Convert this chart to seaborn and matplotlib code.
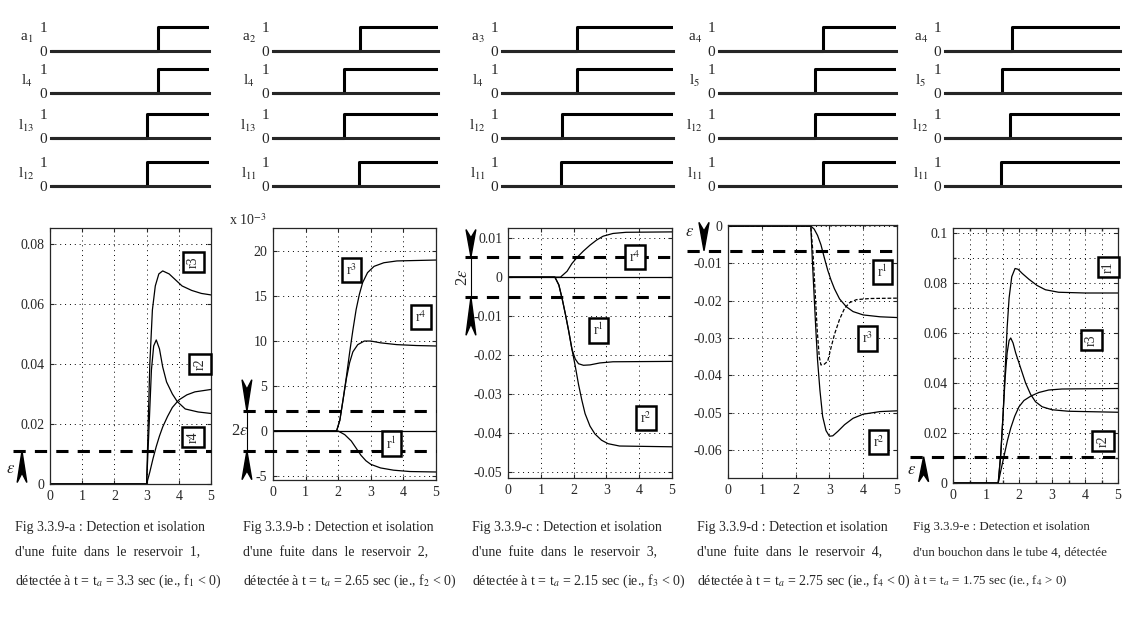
import matplotlib
matplotlib.use("Agg")
import matplotlib.pyplot as plt
import matplotlib.transforms as mtransforms
import seaborn as sns

# ---- step signals (switch-on time in s, rows top -> bottom) ----
labels_a = ["a$_1$", "l$_4$", "l$_{13}$", "l$_{12}$"]
labels_b = ["a$_2$", "l$_4$", "l$_{13}$", "l$_{11}$"]
labels_c = ["a$_3$", "l$_4$", "l$_{12}$", "l$_{11}$"]
labels_d = ["a$_4$", "l$_5$", "l$_{12}$", "l$_{11}$"]
labels_e = ["a$_4$", "l$_5$", "l$_{12}$", "l$_{11}$"]
steps_a = [3.4, 3.4, 3.05, 3.05]
steps_b = [2.65, 2.15, 2.15, 2.6]
steps_c = [2.2, 2.2, 1.75, 1.72]
steps_d = [2.95, 2.7, 2.7, 2.95]
steps_e = [1.9, 1.62, 1.87, 1.6]

# ---- residuals, fig a (reservoir 1) ----
a_t_r3 = [0, 3.0, 3.05, 3.1, 3.18, 3.27, 3.38, 3.5, 3.7, 3.9, 4.1, 4.4, 4.7, 5.0]
a_r3 = [0, 0, 0.02, 0.04, 0.058, 0.066, 0.070, 0.071, 0.070, 0.068, 0.066, 0.0645, 0.0635, 0.063]
a_t_r2 = [0, 3.0, 3.08, 3.15, 3.22, 3.3, 3.4, 3.5, 3.62, 3.8, 3.95, 4.2, 4.6, 5.0]
a_r2 = [0, 0, 0.02, 0.038, 0.046, 0.048, 0.045, 0.039, 0.034, 0.030, 0.0275, 0.025, 0.024, 0.0235]
a_t_r4 = [0, 3.0, 3.1, 3.2, 3.3, 3.4, 3.5, 3.65, 3.8, 4.0, 4.25, 4.5, 5.0]
a_r4 = [0, 0, 0.004, 0.0085, 0.0125, 0.016, 0.019, 0.0225, 0.0255, 0.028, 0.0297, 0.0307, 0.0315]
a_eps = 0.011

# ---- fig b (reservoir 2), units of 1e-3 ----
b_t_r3 = [0, 1.95, 2.05, 2.15, 2.25, 2.35, 2.45, 2.55, 2.65, 2.75, 2.9, 3.1, 3.4, 3.8, 5.0]
b_r3 = [0, 0, 1.2, 3.5, 6.0, 8.7, 11.2, 13.5, 15.2, 16.5, 17.6, 18.3, 18.7, 18.9, 19.0]
b_t_r4 = [0, 1.95, 2.05, 2.15, 2.25, 2.35, 2.45, 2.6, 2.8, 3.0, 3.3, 3.8, 4.4, 5.0]
b_r4 = [0, 0, 1.2, 3.5, 5.8, 7.6, 8.8, 9.6, 10.0, 10.0, 9.8, 9.6, 9.5, 9.45]
b_t_r1 = [0, 2.0, 2.2, 2.4, 2.55, 2.7, 2.85, 3.0, 3.3, 3.7, 4.2, 5.0]
b_r1 = [0, 0, -0.4, -1.1, -1.9, -2.7, -3.3, -3.7, -4.1, -4.35, -4.5, -4.55]
b_t_r2 = [0, 5.0]
b_r2 = [0, 0]
b_eps = 2.2

# ---- fig c (reservoir 3) ----
c_t_r4 = [0, 1.6, 1.8, 1.95, 2.1, 2.3, 2.5, 2.7, 2.9, 3.2, 3.6, 5.0]
c_r4 = [0, 0, 0.0015, 0.0035, 0.005, 0.0067, 0.0082, 0.0095, 0.0105, 0.0112, 0.0115, 0.0116]
c_t_r1 = [0, 1.43, 1.55, 1.65, 1.75, 1.85, 1.95, 2.05, 2.15, 2.3, 2.5, 2.8, 3.2, 5.0]
c_r1 = [0, 0, -0.002, -0.0055, -0.0095, -0.0138, -0.0185, -0.021, -0.0222, -0.0226, -0.0225, -0.022, -0.0217, -0.0216]
c_t_r2 = [0, 1.43, 1.55, 1.65, 1.75, 1.85, 1.95, 2.05, 2.15, 2.25, 2.35, 2.5, 2.65, 2.85, 3.05, 3.4, 5.0]
c_r2 = [0, 0, -0.002, -0.0055, -0.0095, -0.0138, -0.0185, -0.0228, -0.0275, -0.0315, -0.035, -0.0382,
        -0.0402, -0.0418, -0.0427, -0.0433, -0.0435]
c_t_r3 = [0, 5.0]
c_r3 = [0, 0]
c_eps = 0.0052

# ---- fig d (reservoir 4) ----
d_t_r2 = [0, 2.45, 2.5, 2.55, 2.6, 2.65, 2.72, 2.8, 2.9, 3.0, 3.1, 3.25, 3.45, 3.7, 4.0, 4.5, 5.0]
d_r2 = [0, 0, -0.01, -0.019, -0.028, -0.036, -0.044, -0.051, -0.0548, -0.0563, -0.0562, -0.055,
        -0.0532, -0.0515, -0.0504, -0.0497, -0.0495]
d_t_r3 = [0, 2.45, 2.52, 2.58, 2.64, 2.7, 2.75, 2.85, 2.95, 3.05, 3.15, 3.3, 3.45, 3.6, 3.8, 4.2, 5.0]
d_r3 = [0, 0, -0.008, -0.018, -0.028, -0.035, -0.0372, -0.037, -0.0362, -0.0325, -0.029, -0.025,
        -0.022, -0.0205, -0.0197, -0.0194, -0.0193]
d_t_r1 = [0, 2.45, 2.55, 2.65, 2.75, 2.85, 2.95, 3.05, 3.15, 3.3, 3.5, 3.7, 4.0, 4.5, 5.0]
d_r1 = [0, 0, -0.0008, -0.0025, -0.005, -0.0085, -0.0118, -0.0145, -0.0168, -0.0195, -0.0216,
        -0.0229, -0.0238, -0.0243, -0.0245]
d_eps = -0.0066

# ---- fig e (plug in tube 4) ----
e_t_r1 = [0, 1.37, 1.45, 1.52, 1.58, 1.64, 1.7, 1.78, 1.88, 1.97, 2.1, 2.3, 2.55, 2.8, 3.2, 4.0, 5.0]
e_r1 = [0, 0, 0.012, 0.028, 0.045, 0.062, 0.074, 0.0825, 0.0858, 0.0855, 0.0838, 0.0815, 0.079,
        0.0773, 0.0763, 0.076, 0.076]
e_t_r3 = [0, 1.37, 1.45, 1.52, 1.58, 1.64, 1.7, 1.75, 1.82, 1.9, 2.0, 2.1, 2.2, 2.35, 2.5, 2.7, 3.0, 3.5, 5.0]
e_r3 = [0, 0, 0.012, 0.028, 0.042, 0.052, 0.057, 0.058, 0.056, 0.052, 0.048, 0.044, 0.040, 0.0355,
        0.0325, 0.0305, 0.0293, 0.0287, 0.0283]
e_t_r2 = [0, 1.37, 1.45, 1.55, 1.65, 1.75, 1.87, 2.0, 2.15, 2.35, 2.6, 2.9, 3.3, 5.0]
e_r2 = [0, 0, 0.005, 0.011, 0.017, 0.022, 0.0267, 0.0305, 0.033, 0.0347, 0.0362, 0.0372, 0.0376, 0.0378]
e_eps = 0.0105

captions = [
    ["Fig 3.3.9-a : Detection et isolation", "d'une  fuite  dans  le  reservoir  1,",
     "détectée à t = t$_a$ = 3.3 sec (ie., f$_1$ < 0)"],
    ["Fig 3.3.9-b : Detection et isolation", "d'une  fuite  dans  le  reservoir  2,",
     "détectée à t = t$_a$ = 2.65 sec (ie., f$_2$ < 0)"],
    ["Fig 3.3.9-c : Detection et isolation", "d'une  fuite  dans  le  reservoir  3,",
     "détectée à t = t$_a$ = 2.15 sec (ie., f$_3$ < 0)"],
    ["Fig 3.3.9-d : Detection et isolation", "d'une  fuite  dans  le  reservoir  4,",
     "détectée à t = t$_a$ = 2.75 sec (ie., f$_4$ < 0)"],
    ["Fig 3.3.9-e : Detection et isolation", "d'un bouchon dans le tube 4, détectée",
     "à t = t$_a$ = 1.75 sec (ie., f$_4$ > 0)"],
]

sns.set_theme(style="ticks")
plt.rcParams["font.family"] = ["Liberation Serif", "DejaVu Serif"]
plt.rcParams["mathtext.fontset"] = "stix"
plt.rcParams["axes.linewidth"] = 0.9

W, H = 1126, 617
fig = plt.figure(figsize=(W / 100, H / 100), dpi=100)
fig.patch.set_facecolor("white")


def px_axes(left, top, right, bottom):
    return fig.add_axes([left / W, 1 - bottom / H, (right - left) / W, (bottom - top) / H])


row_base = [51, 93, 138, 186]


def draw_steps(left, right, labels, times):
    for base, lab, ts in zip(row_base, labels, times):
        ax = px_axes(left, base - 28, right, base + 3)
        sns.lineplot(x=[0, ts, 5], y=[0, 1, 1], drawstyle="steps-post", color="black",
                     lw=2.2, ax=ax, estimator=None)
        ax.set_xlim(0, 5)
        ax.set_ylim(-3 / 24, 28 / 24)
        for s in ["top", "right", "left"]:
            ax.spines[s].set_visible(False)
        ax.spines["bottom"].set_position(("data", 0))
        ax.spines["bottom"].set_linewidth(2.2)
        ax.set_xticks([])
        ax.set_yticks([0, 1], ["0", "1"])
        ax.tick_params(axis="y", length=0, pad=3, labelsize=11)
        ax.set_xlabel("")
        ax.set_ylabel(lab, rotation=0, fontsize=11, labelpad=9, va="center")
        ax.patch.set_alpha(0)


def draw_residuals(box, ylim, yticks, ylabels, curves, tags, rotate, minor=False):
    ax = px_axes(*box)
    for t, v, ls in curves:
        sns.lineplot(x=t, y=v, color="black", lw=0.9, linestyle=ls, ax=ax, estimator=None)
    ax.set_xlim(0, 5)
    ax.set_ylim(*ylim)
    ax.set_xticks(range(6), [str(i) for i in range(6)])
    ax.set_yticks(yticks, ylabels)
    if minor:
        ax.set_xticks([i + 0.5 for i in range(5)], minor=True)
        ax.set_yticks([k / 100 for k in range(1, 10, 2)], minor=True)
        ax.grid(True, which="minor", ls=(0, (1, 4)), color="black", lw=0.7)
    ax.grid(True, which="major", ls=(0, (1, 4)), color="black", lw=0.7)
    ax.tick_params(direction="in", top=True, right=True, length=3, width=0.8,
                   labelsize=10, pad=4)
    ax.tick_params(which="minor", direction="in", top=True, right=True, length=2)
    ax.set_xlabel("")
    ax.set_ylabel("")
    for tx, ty, s in tags:
        ax.text(tx, ty, s, ha="center", va="center", fontsize=10,
                rotation=90 if rotate else 0, zorder=5,
                bbox=dict(boxstyle="square,pad=0.3", fc="white", ec="black", lw=1.8))
    return ax


def eps_line(ax, x0, y):
    tr = mtransforms.blended_transform_factory(ax.transAxes, ax.transData)
    ax.plot([x0, 1], [y, y], ls=(0, (4, 3)), lw=2.2, color="black", transform=tr,
            clip_on=False, zorder=4)


def arrow_head(ax, x, y_base, y_tip, half):
    tr = mtransforms.blended_transform_factory(ax.transAxes, ax.transData)
    notch = y_base + 0.3 * (y_tip - y_base)
    ax.fill([x - half, x, x + half, x], [y_base, y_tip, y_base, notch], color="black",
            transform=tr, clip_on=False, zorder=4)


def side_text(ax, x, y, s, rot=0):
    tr = mtransforms.blended_transform_factory(ax.transAxes, ax.transData)
    ax.text(x, y, s, transform=tr, ha="center", va="center", fontsize=12, rotation=rot)


# ---- step panels ----
draw_steps(51, 209, labels_a, steps_a)
draw_steps(273, 438, labels_b, steps_b)
draw_steps(502, 673, labels_c, steps_c)
draw_steps(719, 896, labels_d, steps_d)
draw_steps(945, 1120, labels_e, steps_e)

# ---- fig a ----
ax = draw_residuals((50, 228, 211, 484), (0, 0.0853), [0, 0.02, 0.04, 0.06, 0.08],
                    ["0", "0.02", "0.04", "0.06", "0.08"],
                    [(a_t_r3, a_r3, "-"), (a_t_r2, a_r2, "-"), (a_t_r4, a_r4, "-")],
                    [(4.45, 0.074, "r3"), (4.66, 0.040, "r2"), (4.44, 0.0157, "r4")], True)
eps_line(ax, -0.23, a_eps)
arrow_head(ax, -0.174, 0.0005, a_eps, 0.03)
side_text(ax, -0.245, 0.005, r"$\epsilon$")

# ---- fig b ----
ax = draw_residuals((273, 228, 436, 480), (-5.44, 22.56), [-5, 0, 5, 10, 15, 20],
                    ["-5", "0", "5", "10", "15", "20"],
                    [(b_t_r3, b_r3, "-"), (b_t_r4, b_r4, "-"), (b_t_r1, b_r1, "-"),
                     (b_t_r2, b_r2, "-")],
                    [(2.41, 17.9, "r$^3$"), (4.54, 12.7, "r$^4$"), (3.64, -1.4, "r$^1$")], False)
eps_line(ax, -0.184, b_eps)
eps_line(ax, -0.184, -b_eps)
arrow_head(ax, -0.16, 5.7, b_eps, 0.03)
arrow_head(ax, -0.16, -5.4, -b_eps, 0.03)
tr = mtransforms.blended_transform_factory(ax.transAxes, ax.transData)
ax.plot([-0.16, -0.16], [-b_eps, b_eps], color="black", lw=0.8, transform=tr, clip_on=False)
side_text(ax, -0.205, 0, r"2$\epsilon$")
ax.text(-0.27, 1.0, r"x 10$^{-3}$", transform=ax.transAxes, ha="left", va="bottom", fontsize=10)

# ---- fig c ----
ax = draw_residuals((508, 228, 672, 478), (-0.0515, 0.0126),
                    [-0.05, -0.04, -0.03, -0.02, -0.01, 0, 0.01],
                    ["-0.05", "-0.04", "-0.03", "-0.02", "-0.01", "0", "0.01"],
                    [(c_t_r4, c_r4, "-"), (c_t_r1, c_r1, "-"), (c_t_r2, c_r2, "-"),
                     (c_t_r3, c_r3, "-")],
                    [(3.87, 0.0052, "r$^4$"), (2.77, -0.0136, "r$^1$"), (4.2, -0.0362, "r$^2$")], False)
eps_line(ax, -0.262, c_eps)
eps_line(ax, -0.262, -c_eps)
arrow_head(ax, -0.226, 0.0122, c_eps, 0.03)
arrow_head(ax, -0.226, -0.0149, -c_eps, 0.03)
tr = mtransforms.blended_transform_factory(ax.transAxes, ax.transData)
ax.plot([-0.226, -0.226], [-c_eps, c_eps], color="black", lw=0.8, transform=tr, clip_on=False)
side_text(ax, -0.275, 0, r"2$\epsilon$", rot=90)

# ---- fig d ----
ax = draw_residuals((728, 225, 897, 478), (-0.0675, 0.0003),
                    [-0.06, -0.05, -0.04, -0.03, -0.02, -0.01, 0],
                    ["-0.06", "-0.05", "-0.04", "-0.03", "-0.02", "-0.01", "0"],
                    [(d_t_r2, d_r2, "-"), (d_t_r3, d_r3, (0, (3, 1.5))), (d_t_r1, d_r1, "-")],
                    [(4.58, -0.0123, "r$^1$"), (4.13, -0.0301, "r$^3$"), (4.45, -0.0578, "r$^2$")], False)
eps_line(ax, -0.243, d_eps)
arrow_head(ax, -0.142, 0.001, d_eps, 0.03)
side_text(ax, -0.225, -0.0015, r"$\epsilon$")

# ---- fig e ----
ax = draw_residuals((953, 228, 1118, 483), (0, 0.102), [0, 0.02, 0.04, 0.06, 0.08, 0.1],
                    ["0", "0.02", "0.04", "0.06", "0.08", "0.1"],
                    [(e_t_r1, e_r1, "-"), (e_t_r3, e_r3, "-"), (e_t_r2, e_r2, "-")],
                    [(4.71, 0.0864, "r1"), (4.2, 0.0573, "r3"), (4.55, 0.0167, "r2")], True,
                    minor=True)
eps_line(ax, -0.26, e_eps)
arrow_head(ax, -0.178, 0.0005, e_eps, 0.03)
side_text(ax, -0.25, 0.005, r"$\epsilon$")

# ---- captions ----
for x0, lines, fs in zip([15, 243, 472, 697, 913], captions, [10, 10, 10, 10, 9.4]):
    for y0, line in zip([527, 553, 581], lines):
        fig.text(x0 / W, 1 - y0 / H, line, ha="left", va="center", fontsize=fs)

fig.savefig("out.png", dpi=100)
